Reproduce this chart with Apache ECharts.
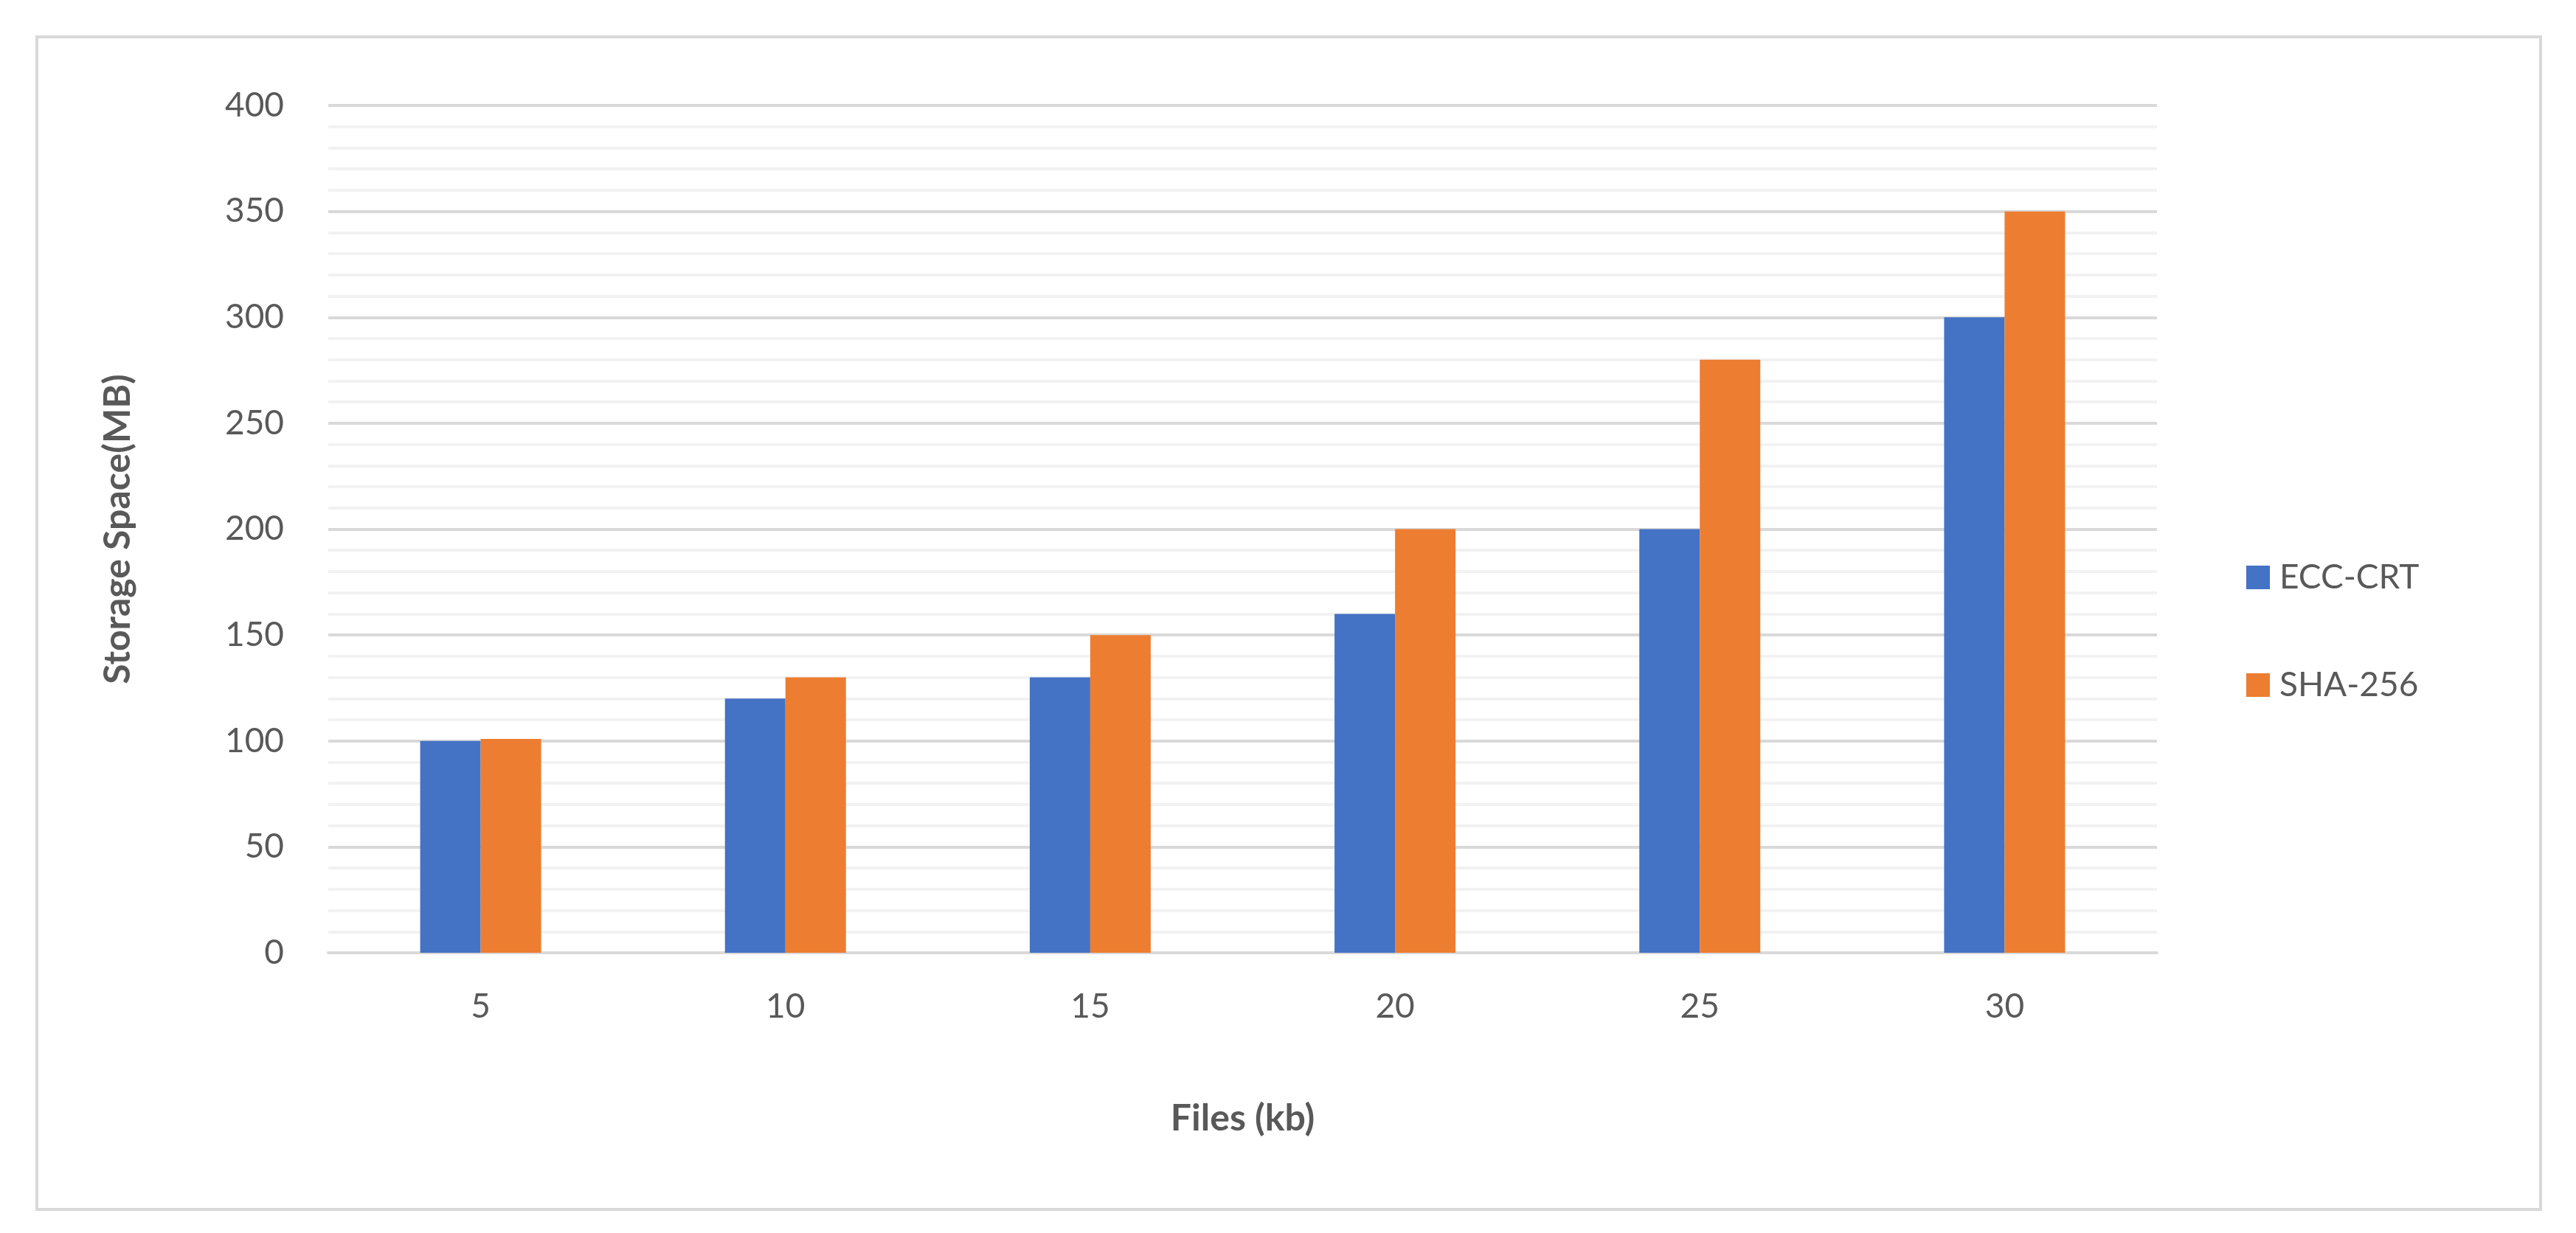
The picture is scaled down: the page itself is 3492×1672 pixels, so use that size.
<!DOCTYPE html>
<html><head><meta charset="utf-8">
<script src="https://cdn.jsdelivr.net/npm/echarts@6/dist/echarts.min.js"></script>
<style>html,body{margin:0;padding:0;background:#fff}#c{width:3492px;height:1672px}</style>
</head><body><div id="c"></div>
<script>
const categories = ['5','10','15','20','25','30'];
const eccCrt = [100,120,130,160,200,300];
const sha256 = [101,130,150,200,280,350];
const seriesNames = ['ECC-CRT','SHA-256'];
const F = 'Lato';
const chart = echarts.init(document.getElementById('c'));
chart.setOption({
  backgroundColor:'#fff',
  animation:false,
  graphic:[{type:'rect',shape:{x:50,y:50,width:3394,height:1590},style:{fill:'none',stroke:'#d9d9d9',lineWidth:4}}],
  grid:{left:445,right:568,top:143,bottom:380},
  legend:{orient:'vertical',left:3040,top:755,itemWidth:32,itemHeight:32,itemGap:100,icon:'rect',
    textStyle:{fontFamily:F,fontSize:46,color:'#595959',padding:[0,0,0,8]},data:seriesNames},
  xAxis:{type:'category',data:categories,
    axisLine:{lineStyle:{color:'#d9d9d9',width:4}},axisTick:{show:false},
    axisLabel:{fontFamily:F,fontSize:46,color:'#595959',margin:50},
    name:'Files (kb)',nameLocation:'middle',nameGap:200,
    nameTextStyle:{fontFamily:F,fontSize:50,fontWeight:'bold',color:'#595959'}},
  yAxis:{type:'value',min:0,max:400,interval:50,splitNumber:8,
    axisLine:{show:false},axisTick:{show:false},
    axisLabel:{fontFamily:F,fontSize:46,color:'#595959',margin:60},
    splitLine:{lineStyle:{color:'#d9d9d9',width:4}},
    minorTick:{show:false,splitNumber:5},
    minorSplitLine:{show:true,lineStyle:{color:'#f2f2f2',width:4}},
    name:'Storage Space(MB)',nameLocation:'middle',nameGap:260,
    nameTextStyle:{fontFamily:F,fontSize:50,fontWeight:'bold',color:'#595959'}},
  series:[
    {name:seriesNames[0],type:'bar',data:eccCrt,barWidth:82,barGap:'0%',itemStyle:{color:'#4472c4'}},
    {name:seriesNames[1],type:'bar',data:sha256,barWidth:82,barGap:'0%',itemStyle:{color:'#ed7d31'}}
  ]
});
</script></body></html>
